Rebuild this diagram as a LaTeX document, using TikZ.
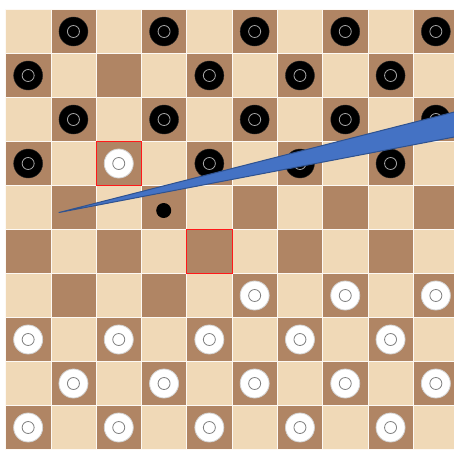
\documentclass[tikz,border=0pt]{standalone}
\usepackage{xcolor}
\usepackage{tikz}

\definecolor{lightsq}{RGB}{240,217,183}
\definecolor{darksq}{RGB}{176,133,100}
\definecolor{wedgefill}{RGB}{68,114,196}
\definecolor{wedgeline}{RGB}{47,82,143}

\begin{document}
\begin{tikzpicture}[x=1pt, y=-1pt,
    sq/.style={draw=white!85!lightsq, line width=0.6pt},
    marked/.style={draw=red!90!white, line width=0.8pt},
    blackman/.style={circle, fill=black, draw=black!85, minimum size=29pt, inner sep=0pt,
      path picture={\draw[gray!70, line width=0.8pt] (path picture bounding box.center) circle (6pt);}},
    whiteman/.style={circle, fill=white, draw=gray!35, line width=0.8pt, minimum size=29pt, inner sep=0pt,
      path picture={\draw[gray, line width=0.8pt] (path picture bounding box.center) circle (6pt);}},
    dot/.style={circle, fill=black, minimum size=15pt, inner sep=0pt}]
  \useasboundingbox (0,0) rectangle (454,450);
  \fill[white] (0,0) rectangle (454,450);
  \clip (0,0) rectangle (454,450);

  % board
  \begin{scope}[shift={(5.5,9.5)}, x=45.3pt, y=-44pt]
    \foreach \r in {0,...,9}
      \foreach \c in {0,...,9} {
        \pgfmathparse{int(mod(\r+\c,2))}
        \ifnum\pgfmathresult=1
          \filldraw[sq, fill=darksq] (\c,\r) rectangle ++(1,1);
        \else
          \filldraw[sq, fill=lightsq] (\c,\r) rectangle ++(1,1);
        \fi
      }
    \draw[marked] (2,3) rectangle ++(1,1);
    \draw[marked] (4,5) rectangle ++(1,1);

    % black men
    \foreach \c/\r in {1/0,3/0,5/0,7/0,9/0, 0/1,4/1,6/1,8/1,
                       1/2,3/2,5/2,7/2,9/2, 0/3,4/3,6/3,8/3}
      \node[blackman] (b-\c-\r) at (\c+.5,\r+.5) {};
    % white men
    \foreach \c/\r in {2/3, 5/6,7/6,9/6, 0/7,2/7,4/7,6/7,8/7,
                       1/8,3/8,5/8,7/8,9/8, 0/9,2/9,4/9,6/9,8/9}
      \node[whiteman] (w-\c-\r) at (\c+.5,\r+.5) {};
  \end{scope}

  \node[dot] (target) at (163.7,210.5) {};

  % pointer
  \coordinate (tip) at (59,212.5);
  \coordinate (top) at (470,108);
  \coordinate (bottom) at (470,134);
  \filldraw[fill=wedgefill, draw=wedgeline, line width=1pt, line join=round] (tip) -- (top) -- (bottom) -- cycle;
\end{tikzpicture}
\end{document}
